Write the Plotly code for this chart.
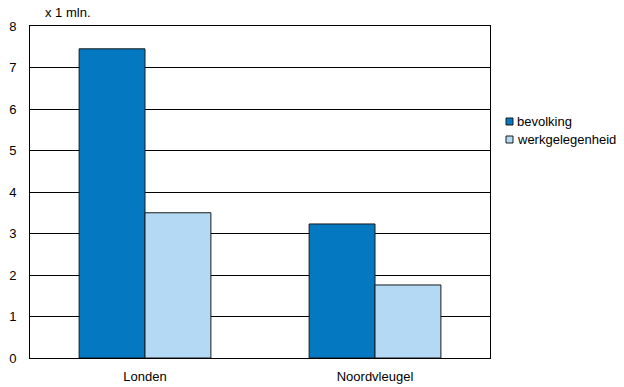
import plotly.graph_objects as go

categories = ["Londen", "Noordvleugel"]
bevolking = [7.45, 3.23]
werkgelegenheid = [3.5, 1.76]
y_ticks = [0, 1, 2, 3, 4, 5, 6, 7, 8]
series_names = ["bevolking", "werkgelegenheid"]
series_colors = ["#0479c2", "#b3d9f4"]

FONT = "Liberation Sans, Arial, sans-serif"
FS = 13

fig = go.Figure()
for name, vals, col in zip(series_names, [bevolking, werkgelegenheid], series_colors):
    fig.add_trace(go.Bar(x=categories, y=vals, name=name, showlegend=False,
                         marker=dict(color=col, line=dict(color="#1a1a1a", width=1))))

# legend drawn as small squares + text (tight spacing as in the reference)
W, H = 624, 387
L, R, T, B = 30, 134, 26, 29
pw, ph = W - L - R, H - T - B
def px_to_paper(x, y):
    return (x - L) / pw, (H - B - y) / ph

shapes = []
annotations = []
legend_y = [121.5, 139.5]
for name, col, yc in zip(series_names, series_colors, legend_y):
    x0, y0 = px_to_paper(506, yc - 3.5)
    x1, y1 = px_to_paper(513, yc + 3.5)
    shapes.append(dict(type="rect", xref="paper", yref="paper", x0=x0, x1=x1,
                       y0=y1, y1=y0, fillcolor=col, line=dict(color="#1a1a1a", width=1)))
    tx, ty = px_to_paper(515, yc)
    annotations.append(dict(text=name, x=tx, y=ty, xref="paper", yref="paper",
                            xanchor="left", yanchor="middle", showarrow=False,
                            font=dict(size=FS, family=FONT, color="black")))

ax, ay = px_to_paper(68, 13)
annotations.append(dict(text="x 1 mln.", x=ax, y=ay, xref="paper", yref="paper",
                        xanchor="center", yanchor="middle", showarrow=False,
                        font=dict(size=FS, family=FONT, color="black")))

fig.update_layout(
    width=W, height=H,
    margin=dict(l=L, r=R, t=T, b=B, autoexpand=False),
    paper_bgcolor="white", plot_bgcolor="white",
    font=dict(family=FONT, size=FS, color="black"),
    barmode="group", bargap=0.427, bargroupgap=0,
    showlegend=False,
    shapes=shapes,
    annotations=annotations,
    xaxis=dict(showline=True, linecolor="black", linewidth=1, mirror=True,
               ticks="", showgrid=False, automargin=False, ticklabelstandoff=6),
    yaxis=dict(range=[0, 8], tickvals=y_ticks, showline=True, linecolor="black",
               linewidth=1, mirror=True, gridcolor="black", gridwidth=1,
               ticks="", ticklabelstandoff=10, zeroline=False, automargin=False),
)

fig.write_html("out.html", config={"displayModeBar": False},
               post_script="document.body.style.margin='0px';document.body.style.padding='0px';")
